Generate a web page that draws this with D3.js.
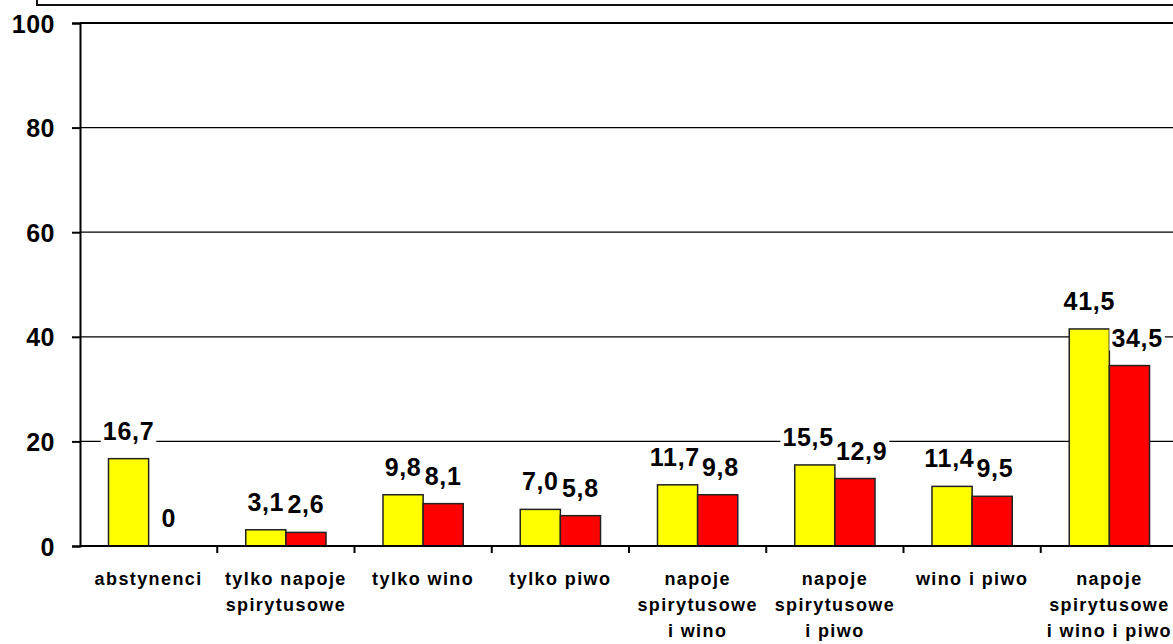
<!DOCTYPE html>
<html>
<head>
<meta charset="utf-8">
<script src="https://cdn.jsdelivr.net/npm/d3@7"></script>
<style>
  body { margin: 0; background: #fff; }
  svg { display: block; font-family: "Liberation Sans", Arial, sans-serif; font-weight: bold; }
</style>
</head>
<body>
<div id="chart"></div>
<script>
// categories (split into lines as on the axis)
const categories = [
    ["abstynenci"],
    ["tylko napoje", "spirytusowe"],
    ["tylko wino"],
    ["tylko piwo"],
    ["napoje", "spirytusowe", "i wino"],
    ["napoje", "spirytusowe", "i piwo"],
    ["wino i piwo"],
    ["napoje", "spirytusowe", "i wino i piwo"]
]
const seriesA = [16.7, 3.1, 9.8, 7.0, 11.7, 15.5, 11.4, 41.5]
const seriesB = [0, 2.6, 8.1, 5.8, 9.8, 12.9, 9.5, 34.5]
const yTicks = [0, 20, 40, 60, 80, 100]

const W = 1173, H = 644
const margin = { left: 80, top: 23, right: -5, bottom: 98 }
const plotRight = W - margin.right
const plotBottom = H - margin.bottom

const svg = d3.select("#chart").append("svg")
    .attr("width", W).attr("height", H)

const x = d3.scaleBand()
    .domain(d3.range(categories.length))
    .range([margin.left, plotRight])
    .padding(0)

const x1 = d3.scaleBand()
    .domain([0, 1])
    .range([0, x.bandwidth()])
    .paddingInner(0)
    .paddingOuter(0.71)

const y = d3.scaleLinear().domain([0, 100]).range([plotBottom, margin.top])

// top frame of the chart area
svg.append("path")
    .attr("d", "M37,0 V5 H" + W)
    .attr("fill", "none").attr("stroke", "#111").attr("stroke-width", 2)

// gridlines
svg.append("g").selectAll("line")
    .data(yTicks.filter(t => t > 0))
    .enter().append("line")
    .attr("x1", margin.left).attr("x2", plotRight)
    .attr("y1", d => y(d)).attr("y2", d => y(d))
    .attr("stroke", "#000")
    .attr("stroke-width", d => d == 100 ? 2 : 1.2)

// y axis
const yAxis = svg.append("g")
    .attr("transform", "translate(" + margin.left + ",0)")
    .call(d3.axisLeft(y).tickValues(yTicks).tickSize(8).tickPadding(17))
yAxis.select(".domain").attr("stroke", "#000").attr("stroke-width", 2)
yAxis.selectAll(".tick line").attr("stroke", "#000").attr("stroke-width", 2)
yAxis.selectAll(".tick text")
    .attr("fill", "#000")
    .style("font-size", "25px").style("font-weight", "bold")
    .style("letter-spacing", "0.5px")
    .style("font-family", "'Liberation Sans', Arial, sans-serif")
    .attr("dy", "0.36em")

// bars
const groups = svg.append("g").selectAll("g")
    .data(categories.map((c, i) => [seriesA[i], seriesB[i]]))
    .enter().append("g")
    .attr("transform", (d, i) => "translate(" + x(i) + ",0)")

groups.selectAll("rect")
    .data(d => d)
    .enter().append("rect")
    .filter(d => d > 0)
    .attr("x", (d, j) => x1(j))
    .attr("width", x1.bandwidth())
    .attr("y", d => y(d))
    .attr("height", d => y(0) - y(d))
    .attr("fill", (d, j) => j == 0 ? "#ffff00" : "#ff0000")
    .attr("stroke", "#222")
    .attr("stroke-width", 1.5)

// x axis line and ticks
svg.append("line")
    .attr("x1", margin.left).attr("x2", plotRight)
    .attr("y1", y(0)).attr("y2", y(0))
    .attr("stroke", "#000").attr("stroke-width", 2)
svg.append("g").selectAll("line")
    .data(d3.range(1, categories.length + 1))
    .enter().append("line")
    .attr("x1", i => margin.left + i * x.step()).attr("x2", i => margin.left + i * x.step())
    .attr("y1", y(0)).attr("y2", y(0) + 7)
    .attr("stroke", "#000").attr("stroke-width", 2)

// value labels with white background, nudged apart like Excel does
const labelLayer = svg.append("g")
categories.forEach((c, i) => {
    const vals = [seriesA[i], seriesB[i]]
    const items = vals.map((v, j) => {
        const g = labelLayer.append("g")
        const t = g.append("text")
            .attr("text-anchor", "middle")
            .style("font-size", "25px")
            .style("letter-spacing", "0.7px")
            .attr("fill", "#000")
            .text(v == 0 ? "0" : d3.format(".1f")(v).replace(".", ","))
        const w = t.node().getComputedTextLength()
        return { g: g, t: t, w: w, cx: x(i) + x1(j) + x1.bandwidth() / 2, base: y(v) - 19 }
    })
    const [a, b] = items
    const barRight = x(i) + x1(1)
    // red label must not sit on the yellow bar
    if (b.base + 4 > y(vals[0]) && b.cx - b.w / 2 < barRight + 2) {
        b.cx = barRight + 2 + b.w / 2
    }
    // labels must not overlap each other
    const overlapX = (a.cx + a.w / 2 + 2) - (b.cx - b.w / 2)
    const overlapY = Math.abs(a.base - b.base) < 24
    if (overlapX > 0 && overlapY) {
        a.cx -= overlapX / 2
        b.cx += overlapX / 2
    }
    items.forEach(it => {
        it.g.insert("rect", "text")
            .attr("x", it.cx - it.w / 2 - 2)
            .attr("y", it.base - 20)
            .attr("width", it.w + 4)
            .attr("height", 24)
            .attr("fill", "#fff")
        it.t.attr("x", it.cx).attr("y", it.base)
    })
})

// category labels
svg.append("g").selectAll("text")
    .data(categories)
    .enter().append("text")
    .attr("text-anchor", "middle")
    .style("font-size", "18px")
    .style("letter-spacing", "1.4px")
    .attr("fill", "#000")
    .each(function (lines, i) {
        d3.select(this).selectAll("tspan")
            .data(lines)
            .enter().append("tspan")
            .attr("x", x(i) + x.bandwidth() / 2)
            .attr("y", (l, k) => y(0) + 39 + k * 26)
            .text(l => l)
    })
</script>
</body>
</html>
